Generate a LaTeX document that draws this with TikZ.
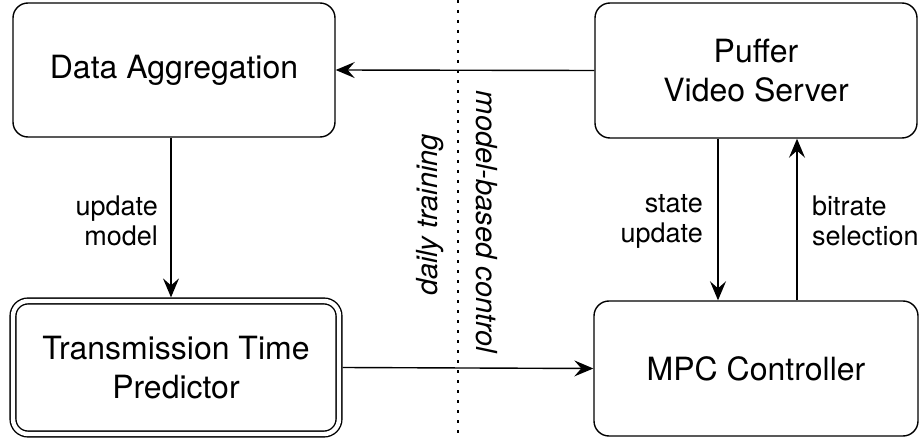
\documentclass[tikz,border=0pt]{standalone}
\usepackage{fontspec}
\setmainfont{TeX Gyre Heros}
\usetikzlibrary{arrows.meta}
\begin{document}
\begin{tikzpicture}[x=1pt,y=-1pt,
  box/.style={draw=black, line width=1.4pt, rounded corners=15pt, align=center,
    font=\fontsize{32}{39}\selectfont, inner sep=0pt},
  dbox/.style={box, double, double distance=4.4pt, outer sep=3.6pt},
  lbl/.style={font=\fontsize{27}{30}\selectfont, inner sep=0pt},
  rot/.style={font=\fontsize{29}{30}\selectfont\itshape, inner sep=0pt},
  arr/.style={line width=1.4pt, -{Stealth[length=19pt, width=16pt, inset=7pt]}},
  divider/.style={line width=2pt, dash pattern=on 3pt off 7pt}]
\useasboundingbox (0,0) rectangle (924,441);

\node[box, minimum width=322pt, minimum height=134pt] (da) at (174,70) {Data Aggregation};
\node[box, minimum width=322pt, minimum height=135pt] (puffer) at (756,70.5) {Puffer\\Video Server};
\node[dbox, minimum width=326pt, minimum height=133pt] (ttp) at (176,367.5) {Transmission Time\\Predictor};
\node[box, minimum width=324pt, minimum height=135pt] (mpc) at (756,368.5) {MPC Controller};

\coordinate (dtop) at (458,0);
\coordinate (dbot) at (458,434);
\draw[divider] (dtop) -- (dbot);

\draw[arr] (puffer.west) -- (da.east);
\draw[arr] ([xshift=-3pt]da.south) -- ([xshift=-5pt]ttp.north);
\draw[arr] (ttp.east) -- (mpc.west);
\draw[arr] ([xshift=-38pt]puffer.south) -- ([xshift=-38pt]mpc.north);
\draw[arr] ([xshift=41pt]mpc.north) -- ([xshift=41pt]puffer.south);

\node[lbl, anchor=east, align=right] (l1) at (158,221) {update\\model};
\node[lbl, anchor=east, align=right] (l2) at (703,221) {state\\update};
\node[lbl, anchor=west, align=left] (l3) at (812,221) {bitrate\\selection};

\node[rot, rotate=90] (r1) at (430,215) {daily training};
\node[rot, rotate=-90] (r2) at (487,222) {model-based control};
\end{tikzpicture}
\end{document}
